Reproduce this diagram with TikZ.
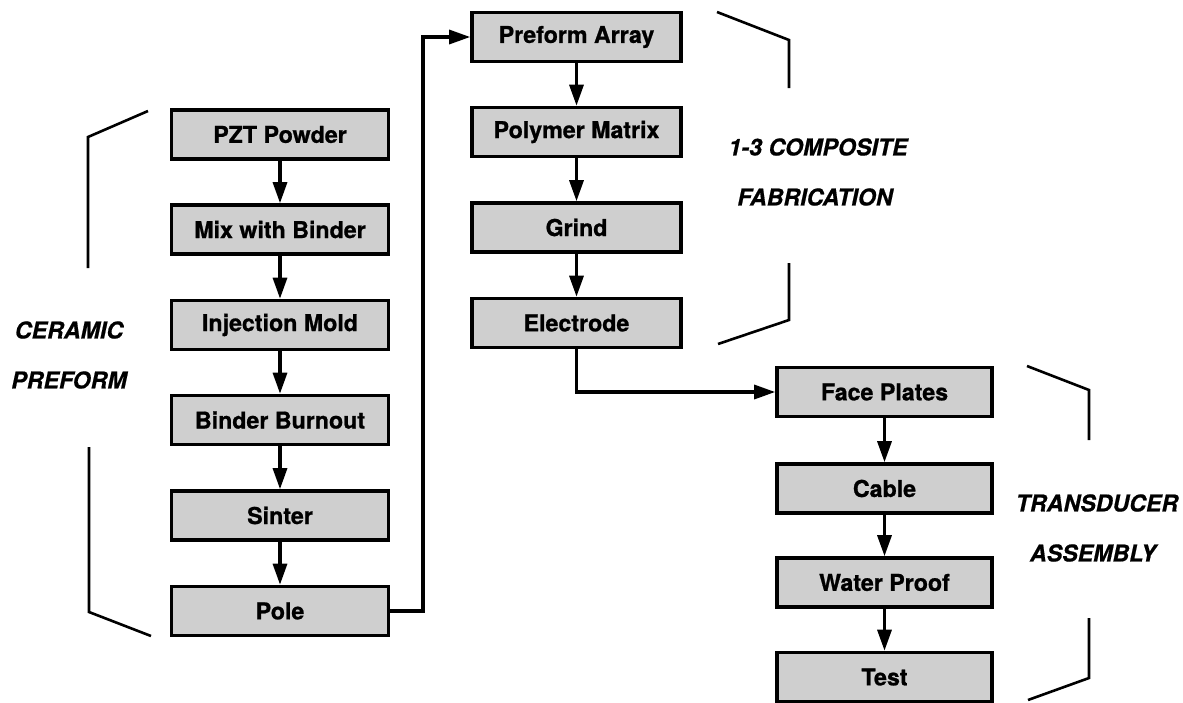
\documentclass[tikz,border=0pt]{standalone}
\usepackage{fontspec}
\setmainfont{TeX Gyre Heros}
\newfontfamily\heavyfont[BoldFeatures={FakeBold=0.9},BoldItalicFeatures={FakeBold=0.6}]{TeX Gyre Heros}
\usetikzlibrary{arrows.meta}
\begin{document}
\begin{tikzpicture}[x=0.5pt,y=-0.5pt,
  stepbox/.style={draw, line width=1.8pt, fill=black!19, minimum width=#1,
    minimum height=24.5pt, inner sep=0pt,
    font=\heavyfont\bfseries\fontsize{11.6}{13}\selectfont},
  lab/.style={font=\heavyfont\bfseries\itshape\fontsize{11.6}{13}\selectfont, inner sep=0pt},
  flow/.style={line width=1.6pt, -{Triangle[length=10.5pt,width=7pt]}},
  brk/.style={line width=1.3pt}]
\useasboundingbox (0,0) rectangle (1183,702);

% left column
\node[stepbox=108.5pt] (pzt)  at (280,134.5) {PZT Powder};
\node[stepbox=108.5pt] (mix)  at (280,229.5) {Mix with Binder};
\node[stepbox=108.5pt] (inj)  at (280,325)   {Injection Mold};
\node[stepbox=108.5pt] (burn) at (280,420)   {Binder Burnout};
\node[stepbox=108.5pt] (sint) at (280,515.5) {Sinter};
\node[stepbox=108.5pt] (pole) at (280,611)   {Pole};

% middle column
\node[stepbox=104.5pt] (parr)  at (576.5,37)    {Preform Array};
\node[stepbox=104.5pt] (poly)  at (576.5,132)   {Polymer Matrix};
\node[stepbox=104.5pt] (grind) at (576.5,227.5) {Grind};
\node[stepbox=104.5pt] (elec)  at (576.5,323)   {Electrode};

% right column
\node[stepbox=107.5pt] (face)  at (884.5,392)   {Face Plates};
\node[stepbox=107.5pt] (cable) at (884.5,488.5) {Cable};
\node[stepbox=107.5pt] (water) at (884.5,582.5) {Water Proof};
\node[stepbox=107.5pt] (test)  at (884.5,677)   {Test};

% arrows
\draw[flow] (pzt) -- (mix);
\draw[flow] (mix) -- (inj);
\draw[flow] (inj) -- (burn);
\draw[flow] (burn) -- (sint);
\draw[flow] (sint) -- (pole);
\coordinate (j1) at (423,611);
\draw[flow] (pole.east) -- (j1) |- (parr.west);
\draw[flow] (parr) -- (poly);
\draw[flow] (poly) -- (grind);
\draw[flow] (grind) -- (elec);
\draw[flow] (elec.south) |- (face.west);
\draw[flow] (face) -- (cable);
\draw[flow] (cable) -- (water);
\draw[flow] (water) -- (test);

% brackets
\draw[brk] (148,111) -- (88,137) -- (88,268);
\draw[brk] (89,447) -- (89,612) -- (151,636);
\draw[brk] (717,12) -- (789,40) -- (789,88);
\draw[brk] (789,263) -- (789,320) -- (718,344);
\draw[brk] (1027,366) -- (1089,390) -- (1089,440);
\draw[brk] (1089,618) -- (1089,678) -- (1028,700);

% labels
\node[lab] (l1) at (69,330) {CERAMIC};
\node[lab] (l2) at (69,380) {PREFORM};
\node[lab] (l3) at (818,147) {1-3 COMPOSITE};
\node[lab] (l4) at (815,197) {FABRICATION};
\node[lab] (l5) at (1097,503) {TRANSDUCER};
\node[lab] (l6) at (1093,553) {ASSEMBLY};
\end{tikzpicture}
\end{document}
